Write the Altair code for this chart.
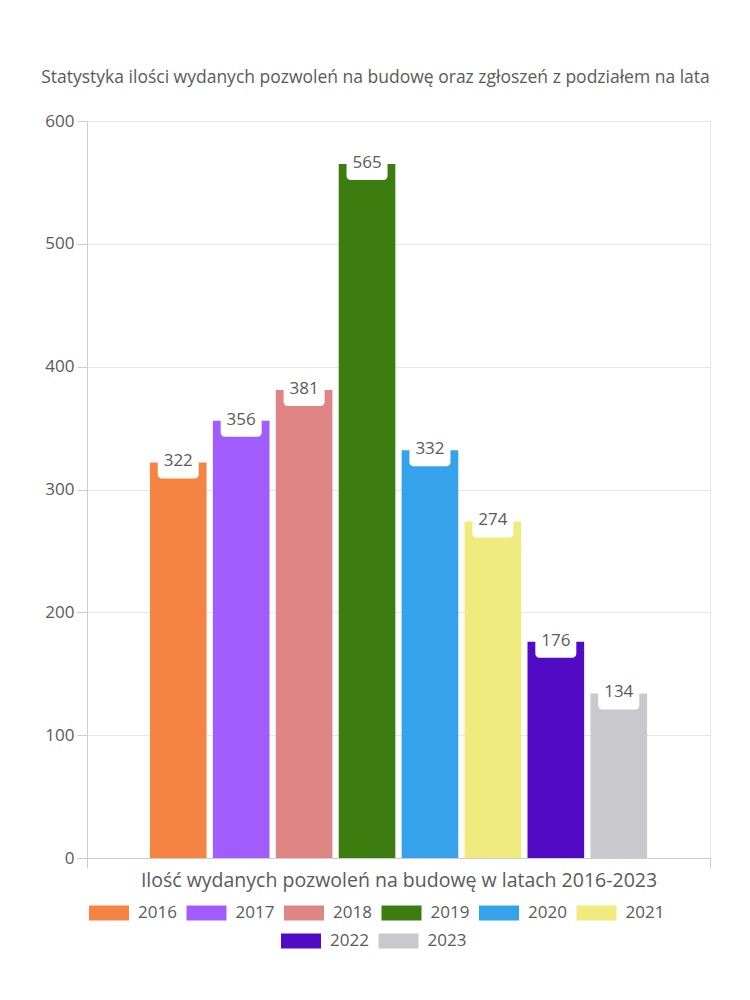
import altair as alt
import pandas as pd

years = ["2016", "2017", "2018", "2019", "2020", "2021", "2022", "2023"]
values = [322, 356, 381, 565, 332, 274, 176, 134]
colors = ["#F58442", "#A05CFF", "#E08585", "#3D7C0E", "#36A2EB", "#F0EB7E", "#520BC4", "#C9C9CD"]
groups = ["a", "a", "a", "a", "a", "a", "b", "b"]
category = "Ilość wydanych pozwoleń na budowę w latach 2016-2023"
title = "Statystyka ilości wydanych pozwoleń na budowę oraz zgłoszeń z podziałem na lata"
y_ticks = [0, 100, 200, 300, 400, 500, 600]

df = pd.DataFrame({"year": years, "value": values, "grp": groups, "cat": [category] * len(years)})

FONT = "Open Sans"
TXT = "#5a5a5a"

base = alt.Chart(df).encode(
    x=alt.X("cat:N", scale=alt.Scale(paddingInner=0, paddingOuter=0),
            axis=alt.Axis(title=category, labels=False, tickBand="extent", grid=True,
                          gridColor="#e6e6e6", domainColor="#cccccc", tickColor="#cccccc",
                          tickSize=10, titlePadding=3, titleFontSize=19.5, titleColor=TXT,
                          titleFont=FONT, titleFontWeight="normal")),
    xOffset=alt.XOffset("year:N", scale=alt.Scale(domain=years, paddingInner=0.1, paddingOuter=1)),
    y=alt.Y("value:Q", scale=alt.Scale(domain=[0, 600]),
            axis=alt.Axis(title=None, values=y_ticks, gridColor="#e6e6e6", domainColor="#cccccc",
                          tickColor="#cccccc", tickSize=10, labelPadding=3, labelFontSize=17,
                          labelColor=TXT, labelFont=FONT)),
)

sym = "M-1,-0.375H1V0.375H-1Z"

def legend(x, y):
    return alt.Legend(orient="none", legendX=x, legendY=y, direction="horizontal", columns=6,
                      title=None, symbolType=sym, symbolSize=1600, symbolStrokeWidth=0,
                      labelFontSize=17, labelColor=TXT, labelFont=FONT, labelOffset=9,
                      columnPadding=9.5, padding=0, symbolOpacity=1)

bars_a = base.transform_filter(alt.datum.grp == "a").mark_bar().encode(
    color=alt.Color("year:N", scale=alt.Scale(domain=years[:6], range=colors[:6]), legend=legend(2, 772))
)
bars_b = base.transform_filter(alt.datum.grp == "b").mark_bar().encode(
    color=alt.Color("year:N", scale=alt.Scale(domain=years[6:], range=colors[6:]), legend=legend(194, 800))
)

boxes = base.mark_bar(color="white", cornerRadius=4, width=41, yOffset=16, y2Offset=-11).encode(
    y2=alt.Y2("value:Q")
)

labels = base.mark_text(fontSize=17, color=TXT, font=FONT, baseline="middle", dy=-1).encode(
    text=alt.Text("value:Q")
)

chart = alt.layer(bars_a, bars_b, boxes, labels).resolve_scale(color="independent").properties(
    width=623, height=737,
    title=alt.Title(title, fontSize=17.5, color=TXT, font=FONT, fontWeight="normal", offset=26, dx=-23, anchor="middle"),
    autosize=alt.AutoSizeParams(type="none"),
    padding={"left": 87, "top": 121, "right": 40, "bottom": 142},
).configure_view(stroke=None).configure(background="white")

chart.save("out.html", embed_options={"renderer": "svg", "actions": False})
